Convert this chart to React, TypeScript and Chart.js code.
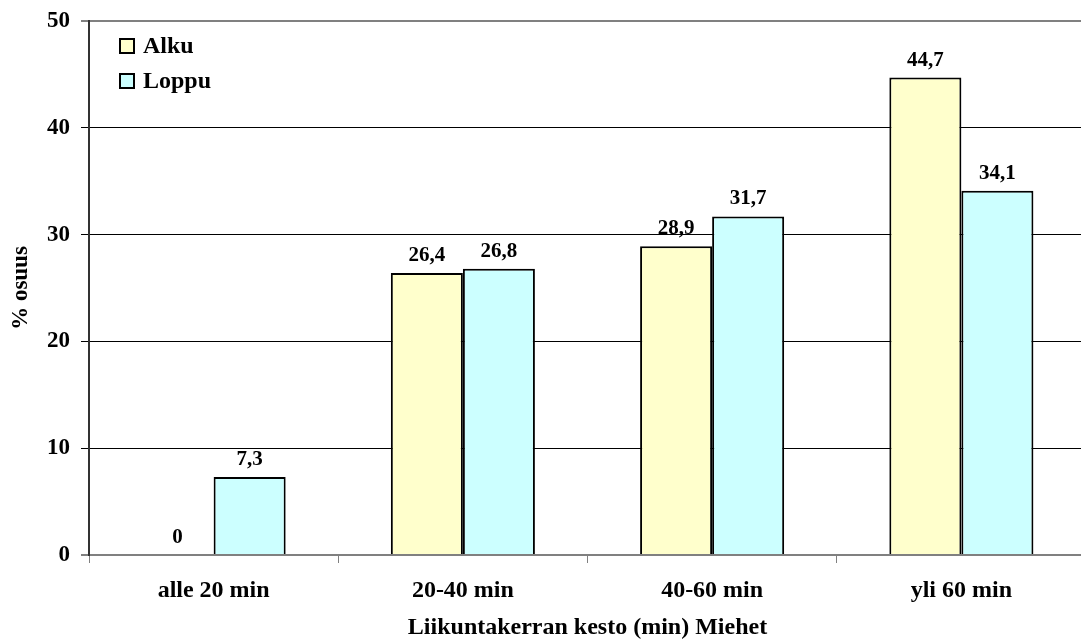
import React, { useEffect, useRef } from "react";
import { Chart, registerables } from "chart.js";

Chart.register(...registerables);

const categories = ["alle 20 min", "20-40 min", "40-60 min", "yli 60 min"];
const seriesNames = ["Alku", "Loppu"];
const alkuValues = [0, 26.4, 28.9, 44.7];
const loppuValues = [7.3, 26.8, 31.7, 34.1];
const seriesColors = ["#FFFFCC", "#CCFFFF"];
const yTicks = [0, 10, 20, 30, 40, 50];
const xTitle = "Liikuntakerran kesto (min) Miehet";
const yTitle = "% osuus";

const FONT = "'Liberation Serif', 'Times New Roman', serif";

const fmt = (v: number) => String(v).replace(".", ",");

// Value labels above each bar
const valueLabels = {
  id: "valueLabels",
  afterDatasetsDraw(chart: any) {
    const { ctx } = chart;
    ctx.save();
    ctx.font = `bold 21px ${FONT}`;
    ctx.fillStyle = "#000";
    ctx.textAlign = "center";
    ctx.textBaseline = "alphabetic";
    chart.data.datasets.forEach((ds: any, di: number) => {
      const meta = chart.getDatasetMeta(di);
      meta.data.forEach((bar: any, i: number) => {
        ctx.fillText(fmt(ds.data[i]), bar.x, bar.y - 12);
      });
    });
    ctx.restore();
  },
};

// Legend drawn inside the plot area, top-left
const insideLegend = {
  id: "insideLegend",
  afterDraw(chart: any) {
    const { ctx, chartArea } = chart;
    ctx.save();
    const x0 = chartArea.left + 31;
    const y0 = chartArea.top + 18;
    chart.data.datasets.forEach((ds: any, i: number) => {
      const y = y0 + i * 35;
      ctx.fillStyle = ds.backgroundColor;
      ctx.fillRect(x0, y, 14, 14);
      ctx.lineWidth = 2;
      ctx.strokeStyle = "#000";
      ctx.strokeRect(x0, y, 14, 14);
      ctx.fillStyle = "#000";
      ctx.font = `bold 24px ${FONT}`;
      ctx.textAlign = "left";
      ctx.textBaseline = "middle";
      ctx.fillText(ds.label, x0 + 23, y + 8);
    });
    ctx.restore();
  },
};

export default function App() {
  const ref = useRef<HTMLCanvasElement>(null);

  useEffect(() => {
    if (!ref.current) return;
    const chart = new Chart(ref.current, {
      type: "bar",
      data: {
        labels: categories,
        datasets: [
          {
            label: seriesNames[0],
            data: alkuValues,
            backgroundColor: seriesColors[0],
            borderColor: "#000",
            borderWidth: 2,
          },
          {
            label: seriesNames[1],
            data: loppuValues,
            backgroundColor: seriesColors[1],
            borderColor: "#000",
            borderWidth: 2,
          },
        ],
      },
      options: {
        responsive: false,
        animation: false,
        layout: { padding: { top: 21, right: 0, bottom: 0, left: 0 } },
        datasets: {
          bar: { categoryPercentage: 0.578, barPercentage: 1 },
        },
        plugins: {
          legend: { display: false },
          tooltip: { enabled: false },
        },
        scales: {
          x: {
            afterFit: (s: any) => {
              s.height = 87;
            },
            grid: {
              offset: true,
              drawOnChartArea: false,
              drawTicks: true,
              tickLength: 8,
              color: "#808080",
            },
            border: { color: "#808080", width: 2 },
            ticks: {
              color: "#000",
              padding: 13,
              font: { family: FONT, size: 24, weight: "bold" },
            },
            title: {
              display: true,
              text: xTitle,
              color: "#000",
              padding: { top: 0, bottom: 0 },
              font: { family: FONT, size: 24, weight: "bold" },
            },
          },
          y: {
            min: 0,
            max: 50,
            afterFit: (s: any) => {
              s.width = 89;
              s.paddingTop = 0;
              s.paddingBottom = 0;
            },
            afterBuildTicks: (s: any) => {
              s.ticks = yTicks.map((v) => ({ value: v }));
            },
            grid: {
              tickLength: 8,
              color: (c: any) =>
                c.tick && (c.tick.value === 0 || c.tick.value === 50) ? "#808080" : "#000",
              lineWidth: (c: any) =>
                c.tick && (c.tick.value === 0 || c.tick.value === 50) ? 2 : 1,
            },
            border: { color: "#333", width: 2 },
            ticks: {
              color: "#000",
              padding: 11,
              font: { family: FONT, size: 23, weight: "bold" },
            },
            title: {
              display: true,
              text: yTitle,
              color: "#000",
              padding: { top: 7, bottom: 0 },
              font: { family: FONT, size: 23, weight: "bold" },
            },
          },
        },
      },
      plugins: [valueLabels, insideLegend],
    });
    return () => chart.destroy();
  }, []);

  return (
    <div
      style={{
        position: "absolute",
        left: 0,
        top: 0,
        width: 1081,
        height: 642,
        overflow: "hidden",
        background: "#fff",
      }}
    >
      <canvas ref={ref} width={1086} height={642} style={{ display: "block" }} />
    </div>
  );
}
